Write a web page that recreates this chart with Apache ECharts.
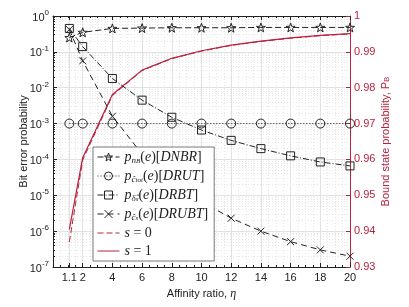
<!DOCTYPE html>
<html><head><meta charset="utf-8">
<script src="https://cdn.jsdelivr.net/npm/echarts@6/dist/echarts.min.js"></script>
<style>html,body{margin:0;padding:0;background:#fff}#c{width:409px;height:307px}</style>
</head><body><div id="c"></div>
<script>
// ---- data ----
const eta = [1.1, 2, 4, 6, 8, 10, 12, 14, 16, 18, 20];
const xTicks = [1.1, 2, 4, 6, 8, 10, 12, 14, 16, 18, 20];
const pDNBR = [0.25, 0.35, 0.45, 0.46, 0.47, 0.47, 0.47, 0.48, 0.48, 0.48, 0.48];
const pDRUT = [1e-3, 1e-3, 1e-3, 1e-3, 1e-3, 1e-3, 1e-3, 1e-3, 1e-3, 1e-3, 1e-3];
const pDRBT = [0.45, 0.14, 0.018, 4.5e-3, 1.5e-3, 6.6e-4, 3.4e-4, 2.0e-4, 1.26e-4, 8.5e-5, 6.6e-5];
const pDRUBT = [0.42, 0.056, 1.6e-3, 1.4e-4, 2.6e-5, 6.7e-6, 2.3e-6, 1.0e-6, 5.1e-7, 3.0e-7, 2.0e-7];
const pbS0 = [0.9370, 0.9598, 0.9778, 0.9848, 0.9881, 0.9902, 0.9918, 0.9929, 0.9938, 0.9945, 0.9950];
const pbS1 = [0.9405, 0.9605, 0.9781, 0.9849, 0.9882, 0.9903, 0.9919, 0.9930, 0.9939, 0.9946, 0.9951];
const leftMajor = [1e-7, 1e-6, 1e-5, 1e-4, 1e-3, 1e-2, 1e-1, 1];
const rightTicks = [0.93, 0.94, 0.95, 0.96, 0.97, 0.98, 0.99, 1];

const minorLog = [];
for (let e = -7; e < 0; e++) for (let m = 2; m <= 9; m++) minorLog.push(+(m * Math.pow(10, e)).toPrecision(3));

const RED = '#b8233f';
const FONT = 'Liberation Sans';
const SERIF = 'Liberation Serif';
const pairs = a => eta.map((x, i) => [x, a[i]]);

const STAR = 'path://M0,-10L2.35,-3.24L9.51,-3.09L3.8,1.24L5.88,8.09L0,4L-5.88,8.09L-3.8,1.24L-9.51,-3.09L-2.35,-3.24Z';
const XMARK = 'path://M-5,-5L5,5M5,-5L-5,5';

const legendText = {
  DNBR: '{p|p}{sb|n}{ss|B}{n|(}{t|e}{n|)[}{t|DNBR}{n|]}',
  DRUT: '{p|p}{sb|ĉ}{ss|tot}{n|(}{t|e}{n|)[}{t|DRUT}{n|]}',
  DRBT: '{p|p}{sb|δ̂}{ss|s}{n|(}{t|e}{n|)[}{t|DRBT}{n|]}',
  DRUBT: '{p|p}{sb|ĉ}{ss|s}{n|(}{t|e}{n|)[}{t|DRUBT}{n|]}',
  s0: '{t|s}{n| = 0}',
  s1: '{t|s}{n| = 1}'
};

const chart = echarts.init(document.getElementById('c'), null, {renderer: 'canvas'});
const markerSeries = (name, data, symbol, size, dash) => ({
  name, type: 'line', data: pairs(data), xAxisIndex: 0, yAxisIndex: 0,
  symbol, symbolSize: size, showSymbol: true,
  lineStyle: {color: '#222', width: 1, type: dash},
  itemStyle: {color: 'rgba(255,255,255,0)', borderColor: '#222', borderWidth: 1},
  emphasis: {disabled: true}, animation: false, z: 3
});
const legItem = name => ({name, itemStyle: {color: 'rgba(255,255,255,0)', borderColor: '#222', borderWidth: 1}});
const legLine = name => ({name, itemStyle: {color: 'rgba(255,255,255,0)', borderColor: 'rgba(255,255,255,0)', borderWidth: 0, opacity: 0}});

chart.setOption({
  animation: false,
  grid: {left: 53, right: 59, top: 16, bottom: 40},
  xAxis: [{
    type: 'value', min: 0, max: 20, interval: 2, position: 'bottom',
    name: 'Affinity ratio, {e|η}', nameLocation: 'middle', nameGap: 17,
    nameTextStyle: {fontFamily: FONT, fontSize: 11, color: '#222',
      rich: {e: {fontFamily: SERIF, fontStyle: 'italic', fontSize: 12, color: '#222'}}},
    axisLine: {show: true, onZero: false, lineStyle: {color: '#222', width: 1}},
    axisTick: {show: true, inside: true, length: 4, customValues: xTicks, lineStyle: {color: '#222'}},
    minorTick: {show: true, splitNumber: 4, length: 2, lineStyle: {color: '#222'}},
    axisLabel: {customValues: xTicks, margin: 5, fontFamily: FONT, fontSize: 11, color: '#222',
      formatter: v => String(v)},
    splitLine: {show: true, lineStyle: {color: '#e2e2e2', width: 1}},
    minorSplitLine: {show: true, lineStyle: {color: '#e6e6e6', width: 1, type: [1, 2]}}
  }, {
    type: 'value', min: 0, max: 20, interval: 2, position: 'top',
    axisLine: {show: true, onZero: false, lineStyle: {color: '#222', width: 1}},
    axisTick: {show: true, inside: true, length: 4, customValues: xTicks, lineStyle: {color: '#222'}},
    minorTick: {show: true, splitNumber: 4, length: 2, lineStyle: {color: '#222'}},
    axisLabel: {show: false}, splitLine: {show: false}
  }],
  yAxis: [{
    type: 'log', logBase: 10, min: 1e-7, max: 1, position: 'left',
    name: 'Bit error probability', nameLocation: 'middle', nameGap: 24, nameRotate: 90,
    nameMoveOverlap: false,
    nameTextStyle: {fontFamily: FONT, fontSize: 11, color: '#222'},
    axisLine: {show: true, onZero: false, lineStyle: {color: '#222', width: 1}},
    axisTick: {show: true, inside: true, length: 4, customValues: leftMajor, lineStyle: {color: '#222'}},
    axisLabel: {customValues: leftMajor, margin: 4, color: '#222',
      formatter: v => '{b|10}{s|' + Math.round(Math.log10(v)) + '}',
      rich: {b: {fontFamily: FONT, fontSize: 11, color: '#222', lineHeight: 14, verticalAlign: 'bottom'},
             s: {fontFamily: FONT, fontSize: 8, color: '#222', lineHeight: 8, verticalAlign: 'top'}}},
    splitLine: {show: true, lineStyle: {color: '#e2e2e2', width: 1}}
  }, {
    type: 'log', logBase: 10, min: 1e-7, max: 1, position: 'left',
    axisLine: {show: false},
    axisTick: {show: true, inside: true, length: 2, customValues: minorLog, lineStyle: {color: '#222'}},
    axisLabel: {show: false},
    splitLine: {show: true, lineStyle: {color: '#e6e6e6', width: 1, type: [1, 2]}}
  }, {
    type: 'value', min: 0.93, max: 1, interval: 0.01, position: 'right',
    name: 'Bound state probability, P{b|B}', nameLocation: 'middle', nameGap: 30, nameRotate: 90,
    nameMoveOverlap: false,
    nameTextStyle: {fontFamily: FONT, fontSize: 11, color: RED,
      rich: {b: {fontFamily: FONT, fontSize: 8, color: RED, verticalAlign: 'bottom', lineHeight: 8}}},
    axisLine: {show: true, onZero: false, lineStyle: {color: RED, width: 1}},
    axisTick: {show: true, inside: true, length: 4, customValues: rightTicks, lineStyle: {color: RED}},
    axisLabel: {customValues: rightTicks, margin: 4, fontFamily: FONT, fontSize: 11, color: RED,
      formatter: v => (Math.abs(v - 1) < 1e-9 ? '1' : v.toFixed(2))},
    splitLine: {show: false}
  }],
  legend: {
    orient: 'vertical', left: 93, top: 147, width: 123,
    padding: [3, 6, 3, 4], itemGap: 4, itemWidth: 22, itemHeight: 10,
    backgroundColor: '#fff', borderColor: '#555', borderWidth: 0.8, borderRadius: 0,
    data: [legItem('DNBR'), legItem('DRUT'), legItem('DRBT'), legItem('DRUBT'), legLine('s0'), legLine('s1')],
    lineStyle: {width: 1},
    formatter: n => legendText[n],
    textStyle: {color: '#222', fontFamily: SERIF, fontSize: 13,
      rich: {
        p: {fontFamily: SERIF, fontStyle: 'italic', fontSize: 14, lineHeight: 16, verticalAlign: 'middle', color: '#222'},
        t: {fontFamily: SERIF, fontStyle: 'italic', fontSize: 14, lineHeight: 16, verticalAlign: 'middle', color: '#222'},
        n: {fontFamily: SERIF, fontSize: 14, lineHeight: 16, verticalAlign: 'middle', color: '#222'},
        sb: {fontFamily: SERIF, fontStyle: 'italic', fontSize: 9, lineHeight: 9, verticalAlign: 'bottom', color: '#222'},
        ss: {fontFamily: SERIF, fontStyle: 'italic', fontSize: 7, lineHeight: 5, verticalAlign: 'bottom', color: '#222'}
      }}
  },
  series: [
    markerSeries('DNBR', pDNBR, STAR, 9, [6, 3]),
    markerSeries('DRUT', pDRUT, 'circle', 9, [1, 2]),
    markerSeries('DRBT', pDRBT, 'rect', 8, [6, 2, 1, 2]),
    markerSeries('DRUBT', pDRUBT, XMARK, 7, [6, 4]),
    {name: 's0', type: 'line', data: pairs(pbS0), xAxisIndex: 0, yAxisIndex: 2, symbol: 'none',
     lineStyle: {color: RED, width: 1, type: [6, 3]}, itemStyle: {color: RED}, z: 2},
    {name: 's1', type: 'line', data: pairs(pbS1), xAxisIndex: 0, yAxisIndex: 2, symbol: 'none',
     lineStyle: {color: RED, width: 1.2, type: 'solid'}, itemStyle: {color: RED}, z: 2}
  ]
});
</script></body></html>
